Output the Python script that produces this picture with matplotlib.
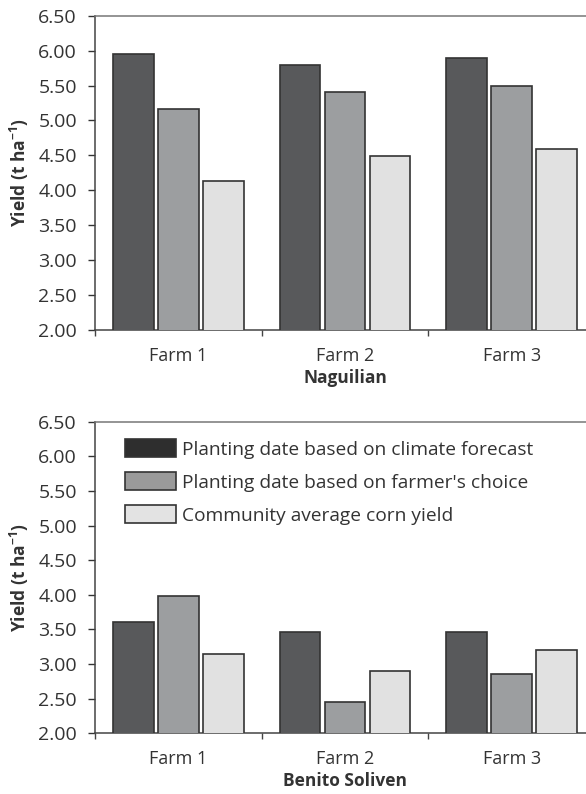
import matplotlib
matplotlib.use("Agg")
import matplotlib.pyplot as plt
import numpy as np
from matplotlib.patches import Patch

plt.rcParams['font.family'] = ['Open Sans', 'DejaVu Sans']
plt.rcParams['mathtext.default'] = 'regular'

farms = ["Farm 1", "Farm 2", "Farm 3"]
series_names = ["Planting date based on climate forecast",
                "Planting date based on farmer's choice",
                "Community average corn yield"]
naguilian = {
    "forecast": [5.95, 5.80, 5.90],
    "farmer": [5.17, 5.41, 5.50],
    "community": [4.13, 4.49, 4.59],
}
benito = {
    "forecast": [3.61, 3.47, 3.47],
    "farmer": [3.99, 2.45, 2.85],
    "community": [3.14, 2.90, 3.21],
}
yticks = [2.00, 2.50, 3.00, 3.50, 4.00, 4.50, 5.00, 5.50, 6.00, 6.50]
site_names = ["Naguilian", "Benito Soliven"]

face = ["#58595b", "#9c9ea0", "#e1e1e1"]
edge = "#333333"
legend_face = ["#2e2e2e", "#9a9a9a", "#e3e3e3"]

fig = plt.figure(figsize=(5.86, 7.94), dpi=100)
W, H = 586, 794

def axes_px(x0, y0, x1, y1):
    return fig.add_axes([x0 / W, 1 - y1 / H, (x1 - x0) / W, (y1 - y0) / H])

ax1 = axes_px(95, 15.7, 595, 330)
ax2 = axes_px(95, 421.7, 595, 733.3)

x = np.arange(len(farms))
offsets = [-0.27, 0.0, 0.27]
width = 0.245
text_col = "#333333"

for ax, data, site in [(ax1, naguilian, site_names[0]), (ax2, benito, site_names[1])]:
    for i, key in enumerate(["forecast", "farmer", "community"]):
        ax.bar(x + offsets[i], data[key], width=width, bottom=0,
               color=face[i], edgecolor=edge, linewidth=1.2, zorder=3)
    ax.set_ylim(2.0, 6.5)
    ax.set_xlim(-0.5, 2.5)
    ax.set_yticks(yticks)
    ax.set_yticklabels([f"{v:.2f}" for v in yticks])
    ax.set_xticks([-0.5, 0.5, 1.5, 2.5])
    ax.set_xticklabels([])
    ax.set_xticks(x, minor=True)
    ax.set_xticklabels(farms, minor=True)
    ax.tick_params(axis='x', which='minor', length=0, pad=12, labelsize=13, colors=text_col)
    ax.tick_params(axis='x', which='major', length=4, width=1.0, direction='out', color='#444444')
    ax.tick_params(axis='y', length=5, width=1.0, direction='out', labelsize=14,
                   colors=text_col, pad=8)
    for s in ['left', 'bottom']:
        ax.spines[s].set_color('#444444')
        ax.spines[s].set_linewidth(1.1)
    ax.spines['top'].set_color('#777777')
    ax.spines['top'].set_linewidth(1.1)
    ax.spines['right'].set_visible(False)
    ax.set_ylabel("Yield (t ha$^{-1}$)", fontsize=12.5, fontweight='bold', color=text_col, labelpad=5)
    ax.set_xlabel(site, fontsize=12.5, fontweight='bold', color=text_col, labelpad=3)

handles = [Patch(facecolor=legend_face[i], edgecolor=edge, linewidth=1.2) for i in range(3)]
leg = ax2.legend(handles, series_names, loc='upper left', bbox_to_anchor=(0.06, 0.944),
                 frameon=False, fontsize=13.8, handlelength=2.65, handleheight=1.04,
                 handletextpad=0.35, labelspacing=0.72, borderpad=0, borderaxespad=0)
for t in leg.get_texts():
    t.set_color(text_col)

fig.savefig("out.png", dpi=100)
